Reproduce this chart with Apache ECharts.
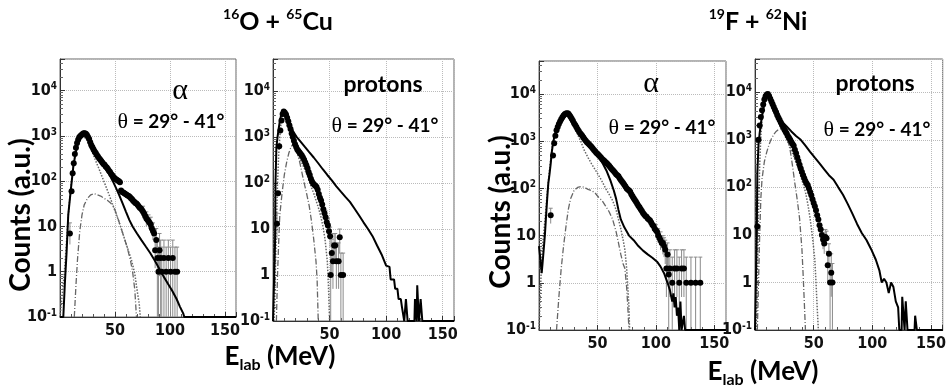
<!DOCTYPE html>
<html><head><meta charset="utf-8">
<script src="https://cdn.jsdelivr.net/npm/echarts@6/dist/echarts.min.js"></script>
<style>html,body{margin:0;padding:0;background:#fff}#c{width:949px;height:389px}</style>
</head><body><div id="c"></div>
<script>
// ---------- tick values ----------
const xTickValues = [50, 100, 150];
const yTickExponents = [-1, 0, 1, 2, 3, 4];

// ---------- Panel 1: 16O + 65Cu, alpha ----------
const p1Data = [[9,7],[10.5,60],[11.5,150],[12.5,250],[13.5,400],[14.5,550],[15.5,700],[16.5,820],[17.5,930],[18.5,1000],[19.5,1050],[20.5,1100],[21.5,1150],[22.5,1150],[23.5,1120],[24.5,1050],[25.5,950],[26.5,850],[27.5,720],[28.5,620],[29.5,560],[30.5,500],[31.5,450],[32.5,420],[33.5,380],[34.5,350],[35.5,320],[36.5,300],[37.5,280],[38.5,260],[39.5,240],[40.5,230],[41.5,210],[42.5,200],[43.5,185],[44.5,170],[45.5,160],[46.5,145],[47.5,135],[48.5,125],[49.5,118],[50.5,112],[51.5,108],[52.5,104],[53.5,100],[54.5,95],[55.5,62],[56.5,58],[57.5,56],[58.5,54],[59.5,52],[60.5,50],[61.5,48],[62.5,47],[63.5,45],[64.5,42],[65.5,40],[66.5,37],[67.5,35],[68.5,33],[69.5,32],[70.5,30],[71.5,28],[72.5,26],[73.5,25],[74.5,23],[75.5,21],[76.5,19],[77.5,17],[78.5,15],[79.5,14],[80.5,13],[81.5,12],[82.5,11],[83.5,9],[84.5,8],[85.5,7],[86.5,3],[87.5,5],[88.5,2],[89.5,1],[90.5,3],[91.5,2],[92.5,1],[94.5,2],[96.5,1],[98.5,2],[100.5,1],[102.5,2],[104.5,1],[106.5,1]];
const p1Err = [[9,4,12],[75.5,15,28],[78.5,10,21],[80.5,9,18],[82.5,7,16],[84.5,5,12],[86.5,1.2,7],[87.5,2.5,9],[88.5,0.1,5],[89.5,0.1,3.5],[90.5,0.8,7],[91.5,0.1,5],[92.5,0.1,3.5],[94.5,0.1,5],[96.5,0.1,3.5],[98.5,0.1,5],[100.5,0.1,3.5],[102.5,0.1,5],[104.5,0.1,3.5],[106.5,0.1,3.5]];
const p1Solid = [[0,0.1],[3,0.1],[4.5,0.6],[6,2.7],[7.5,18],[10,70],[12,200],[14,400],[16,650],[18,900],[20,1050],[22,1100],[24,1000],[26,850],[28,700],[30,560],[33,420],[36,320],[39,240],[42,180],[45,140],[48,100],[51,70],[54,48],[57,32],[60,21],[63,14],[66,10],[70,7],[74,5],[78,3.6],[82,2.6],[86,1.8],[90,1.2],[94,0.8],[98,0.55],[102,0.38],[106,0.25],[109,0.17],[112,0.12],[113,0.1],[160,0.1]];
const p1Dotted = [[0,0.1],[2,0.3],[4,1],[6,5],[8,25],[10,80],[12,220],[15,550],[18,900],[21,1000],[24,850],[27,600],[30,400],[32,300],[35,200],[38,130],[41,85],[44,55],[47,35],[50,22],[53,14],[56,8.5],[59,5],[62,3],[65,1.8],[68,0.9],[70,0.4],[72,0.2],[73,0.1]];
const p1DashDot = [[13,0.1],[14.5,0.5],[16,2],[18,8],[20,18],[22,30],[25,42],[28,50],[31,53],[34,50],[37,47],[40,42],[43,38],[46,33],[49,27],[52,17],[55,10],[58,6],[61,3.5],[64,1.8],[66,1],[68,0.4],[69.5,0.1]];

// ---------- Panel 2: 16O + 65Cu, protons ----------
const p2Data = [[3.5,13],[4.5,60],[5.5,630],[6.5,1400],[7.5,2300],[8.5,3200],[9.5,3600],[10.5,3400],[11.5,3100],[12.5,2650],[13.5,2200],[14.5,1800],[15.5,1500],[16.5,1200],[17.5,1000],[18.5,830],[19.5,700],[20.5,610],[21.5,540],[22.5,500],[23.5,460],[24.5,430],[25.5,400],[26.5,360],[27.5,320],[28.5,280],[29.5,245],[30.5,210],[31.5,175],[32.5,150],[33.5,125],[34.5,108],[35.5,98],[36.5,92],[37.5,88],[38.5,82],[39.5,72],[40.5,58],[41.5,48],[42.5,42],[43.5,34],[44.5,27],[45.5,22],[46.5,18],[47.5,14],[48.5,12],[49.5,9],[50.5,7],[51,1],[52,3],[53,2],[54,4.4],[55,4.4],[56,2],[58,2],[59,6.6],[60,1],[62,1]];
const p2Err = [[3.5,6,22],[46.5,12,25],[48.5,8,17],[49.5,6,13],[50.5,4,11],[51,0.1,3],[52,1,6],[53,0.5,5],[54,2,8],[55,2,8],[56,0.5,5],[58,0.5,5],[59,3,10],[60,0.1,3],[62,0.1,3]];
const p2Solid = [[0,0.1],[1.5,0.1],[1.8,5],[2.2,100],[3,600],[4,1000],[5,1500],[6,2200],[7,2900],[8,3400],[9,3700],[10,3500],[12,2800],[15,1900],[18,1300],[21,1000],[24,820],[28,620],[32,470],[36,360],[40,270],[44,200],[48,150],[52,115],[56,85],[60,65],[64,50],[68,39],[72,28],[76,20],[80,14],[84,10],[88,7],[92,4.4],[96,2.8],[100,1.6],[103,1.5],[104,0.8],[107,0.8],[108,0.5],[110,0.5],[111,0.3],[113,0.3],[114,0.2],[115,0.2],[116,0.1],[117,0.1],[117.5,0.3],[118.5,0.3],[119,0.1],[125,0.1],[125.5,0.3],[126.5,0.3],[127,0.1],[127.5,0.6],[128.5,0.6],[129,0.1],[130,0.1],[130.5,0.3],[131.5,0.3],[132,0.1],[160,0.1]];
const p2Dotted = [[1,0.1],[2,1],[3,10],[4,100],[5,400],[6,1000],[7,1900],[8,2800],[9,3300],[10,3200],[12,2400],[14,1700],[16,1100],[18,750],[20,520],[22,400],[24,320],[26,260],[28,200],[30,150],[32,110],[34,80],[36,60],[38,42],[40,30],[42,20],[44,12],[46,6],[48,2],[49,0.6],[50,0.1]];
const p2DashDot = [[3,0.1],[4,1],[5,5],[6,20],[8,60],[10,150],[12,280],[14,450],[16,620],[18,720],[20,650],[22,420],[24,260],[26,150],[28,90],[30,55],[32,32],[34,15],[36,6],[38,2],[39,0.8],[40,0.1]];

// ---------- Panel 3: 19F + 62Ni, alpha ----------
const p3Data = [[10,27],[12,500],[13,900],[14,1300],[15,1700],[16,2000],[17,2300],[18,2600],[19,2900],[20,3200],[21,3500],[22,3700],[23,3850],[24,3900],[25,3850],[26,3600],[27,3300],[28,3000],[29,2700],[30,2400],[31,2200],[32,2000],[33,1800],[34,1650],[35,1500],[36,1400],[37,1300],[38,1200],[39,1100],[40,1020],[41,950],[42,900],[43,850],[44,800],[45,750],[46,700],[47,650],[48,610],[49,570],[50,540],[51,510],[52,480],[53,450],[54,420],[55,400],[56,380],[57,360],[58,340],[59,320],[60,300],[61,280],[62,260],[63,245],[64,230],[65,215],[66,200],[67,190],[68,180],[69,165],[70,150],[71,140],[72,130],[73,120],[74,110],[75,100],[76,95],[77,90],[78,85],[79,75],[80,68],[81,62],[82,57],[83,52],[84,47],[85,43],[86,40],[87,36],[88,33],[89,30],[90,28],[91,26],[92,25],[93,23],[94,22],[95,21],[96,19],[97,17],[98,16],[99,14],[100,13],[101,12],[102,10],[103,9],[104,8],[105,7],[106,7],[107,6],[108,5],[109,2],[110,4],[111,1.5],[112,2],[114,1],[116,2],[118,2],[120,1],[122,2],[124,2],[126,1],[130,1],[134,1],[138,1]];
const p3Err = [[10,18,38],[100,9,17],[102,7,14],[104,5,12],[106,4,10],[107,3.5,9],[108,2.5,8],[109,0.5,4],[110,1.5,7],[111,0.1,4],[112,0.5,5],[114,0.1,3.5],[116,0.5,5],[118,0.5,5],[120,0.1,3.5],[122,0.5,5],[124,0.5,5],[126,0.1,3.5],[130,0.1,3.5],[134,0.1,3.5],[138,0.1,3.5]];
const p3Solid = [[0,6],[1,3.5],[2.3,1.6],[3,2.5],[4,5],[5,10],[6,25],[7,60],[8,130],[9,200],[10,330],[11,600],[12,900],[13,1200],[14,1500],[16,2000],[18,2500],[20,2900],[22,3400],[24,3800],[25,3900],[27,3600],[29,3000],[31,2400],[33,1900],[36,1400],[40,980],[44,750],[48,580],[52,430],[55,320],[58,230],[61,150],[64,90],[66,60],[68,35],[70,22],[73,15],[77,10],[81,8],[85,6],[89,4.8],[93,4],[97,3.4],[101,2.8],[104,2.2],[107,1.6],[110,1],[112,0.7],[114,0.4],[115,0.6],[116,0.3],[117,0.5],[118,0.2],[119,0.3],[120,0.1],[121,0.4],[122,0.1],[124,0.2],[125,0.1],[160,0.1]];
const p3Dotted = [[0,0.1],[1,0.5],[2,2],[3,6],[5,20],[7,80],[9,250],[11,700],[13,1300],[16,2000],[19,2800],[22,3400],[24,3500],[26,3100],[28,2500],[30,2000],[33,1400],[36,950],[39,620],[42,450],[45,330],[48,250],[51,190],[54,140],[57,100],[60,75],[63,55],[66,35],[68,22],[70,14],[72,8],[73.5,5],[75,2],[76,0.8],[77,0.3],[77.5,0.1]];
const p3DashDot = [[15,0.1],[17,0.5],[19,2],[21,6],[23,15],[25,35],[27,60],[30,90],[33,105],[36,110],[39,105],[42,95],[45,90],[48,80],[51,65],[54,55],[57,42],[60,32],[63,22],[66,12],[68,7],[70,4],[72,2.5],[73.5,2],[75,0.8],[76,0.3],[77,0.1]];

// ---------- Panel 4: 19F + 62Ni, protons ----------
const p4Data = [[2,15],[3,1000],[4,2000],[5,3000],[6,4200],[7,5500],[8,7000],[9,8200],[10,9000],[11,9200],[12,8300],[13,7300],[14,6400],[15,5600],[16,4900],[17,4300],[18,3800],[19,3300],[20,2900],[21,2600],[22,2300],[23,2050],[24,1850],[25,1650],[26,1500],[27,1350],[28,1200],[29,1100],[30,1000],[31,900],[32,820],[33,750],[34,620],[35,520],[36,430],[37,360],[38,300],[39,250],[40,210],[41,180],[42,155],[43,135],[44,120],[45,110],[46,95],[47,80],[48,68],[49,56],[50,47],[51,40],[52,33],[53,26],[54,21],[55,16],[56,13],[57,10],[58,8],[59,6.6],[60,9],[61,8.5],[62,2.3],[63,4],[64,1],[65,1.6],[66,1]];
const p4Err = [[2,8,25],[57,7,13],[58,5,11],[59,4,9],[60,6,13],[61,6,12],[62,1,4.5],[63,2,6.5],[64,0.1,2.5],[65,0.5,4],[66,0.1,2.5]];
const p4Solid = [[0,0.1],[1,0.1],[1.5,10],[2,200],[3,800],[4,1400],[5,2200],[6,3200],[7,4500],[8,6000],[9,7500],[10,8500],[11,9000],[13,7500],[15,5800],[17,4500],[20,3200],[23,2400],[27,1900],[31,1500],[35,1200],[39,1000],[43,750],[47,560],[51,420],[55,320],[59,240],[63,180],[67,145],[71,100],[75,70],[79,45],[83,28],[87,17],[91,11],[95,7.8],[99,5],[103,3],[106,1.8],[108,1],[110,1.2],[112,1],[114,0.6],[116,1],[118,0.8],[120,0.4],[122,0.3],[123,0.1],[125,0.1],[125.5,0.5],[127,0.5],[127.5,0.1],[128,0.1],[128.5,0.4],[129.5,0.4],[130,0.1],[136,0.1],[136.5,0.2],[137.5,0.2],[138,0.1],[160,0.1]];
const p4Dotted = [[1,0.1],[2,1],[3,30],[4,300],[5,1200],[6,2500],[7,4000],[8,6000],[9,7500],[10,8300],[11,8500],[13,6800],[15,5000],[17,3800],[19,2900],[21,2200],[23,1700],[25,1300],[27,1000],[29,780],[31,600],[33,450],[35,330],[37,240],[39,170],[41,120],[43,80],[45,45],[47,22],[49,9],[51,3],[52,1],[53,0.3],[54,0.1]];
const p4DashDot = [[2,0.1],[3,1],[4,10],[5,60],[6,150],[8,350],[10,550],[12,800],[14,1050],[16,1300],[18,1500],[20,1650],[22,1700],[24,1650],[26,1400],[28,1000],[30,600],[32,280],[34,120],[36,55],[38,22],[40,5],[41,1.5],[42,0.4],[43,0.1]];

// ---------- layout ----------
const grids = [
  {left:60, top:59, width:176, height:258},
  {left:273, top:59, width:181, height:262},
  {left:539, top:61, width:187, height:269},
  {left:755, top:59, width:188, height:271}
];
const panels = [
  {data:p1Data, err:p1Err, solid:p1Solid, dotted:p1Dotted, dashdot:p1DashDot},
  {data:p2Data, err:p2Err, solid:p2Solid, dotted:p2Dotted, dashdot:p2DashDot},
  {data:p3Data, err:p3Err, solid:p3Solid, dotted:p3Dotted, dashdot:p3DashDot},
  {data:p4Data, err:p4Err, solid:p4Solid, dotted:p4Dotted, dashdot:p4DashDot}
];

const NARROW = "'Liberation Sans Narrow','DejaVu Sans Condensed','Liberation Sans',sans-serif";
const TXT = "Lato,'Open Sans',sans-serif";
const SERIF = "'Liberation Serif','DejaVu Serif',serif";

function yFmt(v){
  const l = Math.log10(v), e = Math.round(l);
  if (Math.abs(l - e) > 0.01 || yTickExponents.indexOf(e) < 0) return '';
  if (e === 0) return '{b|1}';
  if (e === 1) return '{b|10}';
  return '{b|10}{e|' + e + '}';
}
function xFmt(v){
  const r = Math.round(v);
  return (Math.abs(v - r) < 1e-6 && xTickValues.indexOf(r) >= 0) ? String(r) : '';
}

const option = {
  animation:false,
  backgroundColor:'#fff',
  grid: grids.map(g => Object.assign({show:true, borderColor:'#666', borderWidth:1, backgroundColor:'#fff'}, g)),
  xAxis: grids.map((g,i) => ({
    type:'value', gridIndex:i, min:0, max:160, interval:50,
    axisLine:{show:true, lineStyle:{color:'#333', width:1}},
    axisTick:{show:true, inside:true, length:5, lineStyle:{color:'#333'}},
    minorTick:{show:true, splitNumber:5, length:3, lineStyle:{color:'#555'}},
    splitLine:{show:true, lineStyle:{color:'#bbb', type:'dotted', width:1}},
    axisLabel:{formatter:xFmt, fontFamily:NARROW, fontWeight:'bold', fontSize:16, color:'#111', margin:6, showMinLabel:false}
  })),
  yAxis: grids.map((g,i) => ({
    type:'log', logBase:10, gridIndex:i, min:0.1, max:50000,
    axisLine:{show:true, lineStyle:{color:'#333', width:1}},
    axisTick:{show:true, inside:true, length:5, lineStyle:{color:'#333'}},
    minorTick:{show:true, splitNumber:9, length:3, lineStyle:{color:'#666'}},
    splitLine:{show:true, lineStyle:{color:'#bbb', type:'dotted', width:1}},
    axisLabel:{formatter:yFmt, color:'#111', margin:3,
      rich:{ b:{fontFamily:NARROW, fontWeight:'bold', fontSize:16, lineHeight:18},
             e:{fontFamily:NARROW, fontWeight:'bold', fontSize:10, lineHeight:10, verticalAlign:'top'} } }
  })),
  series: []
};

panels.forEach((p, i) => {
  option.series.push({type:'line', xAxisIndex:i, yAxisIndex:i, data:p.dashdot, symbol:'none', z:2,
    lineStyle:{color:'#666', width:1.3, type:[6,2,1,2]}});
  option.series.push({type:'line', xAxisIndex:i, yAxisIndex:i, data:p.dotted, symbol:'none', z:2,
    lineStyle:{color:'#666', width:1.5, type:[1.5,1.5]}});
  option.series.push({type:'custom', xAxisIndex:i, yAxisIndex:i, data:p.err, z:3, clip:true,
    encode:{x:0, y:[1,2]},
    renderItem:(params, api) => {
      const x = api.value(0);
      const a = api.coord([x, api.value(1)]);
      const b = api.coord([x, api.value(2)]);
      return {type:'group', children:[
        {type:'line', shape:{x1:a[0], y1:a[1], x2:b[0], y2:b[1]}, style:{stroke:'#8a8a8a', lineWidth:1}},
        {type:'line', shape:{x1:b[0]-2, y1:b[1], x2:b[0]+2, y2:b[1]}, style:{stroke:'#8a8a8a', lineWidth:1}}
      ]};
    }});
  option.series.push({type:'line', xAxisIndex:i, yAxisIndex:i, data:p.solid, symbol:'none', z:4,
    lineStyle:{color:'#000', width:2}});
  option.series.push({type:'scatter', xAxisIndex:i, yAxisIndex:i, data:p.data, symbol:'circle', symbolSize:6, z:5,
    itemStyle:{color:'#000', opacity:1}});
});

function txt(x, y, text, rich, extra){
  return Object.assign({type:'text', x:x, y:y, z:100,
    style:{text:text, rich:rich, align:'center', verticalAlign:'middle', fill:'#000'}}, extra||{});
}
const titleRich = {
  m:{fontFamily:TXT, fontWeight:'bold', fontSize:25, lineHeight:30, fill:'#000'},
  s:{fontFamily:TXT, fontWeight:'bold', fontSize:14, lineHeight:14, verticalAlign:'top', fill:'#000'}
};
const labRich = {
  m:{fontFamily:TXT, fontWeight:'bold', fontSize:26, lineHeight:32, fill:'#000'},
  s:{fontFamily:TXT, fontWeight:'bold', fontSize:16, lineHeight:16, verticalAlign:'bottom', fill:'#000'}
};
const cntRich = {m:{fontFamily:TXT, fontWeight:'bold', fontSize:28, lineHeight:32, fill:'#000'}};
const thRich = {
  t:{fontFamily:SERIF, fontSize:22, lineHeight:24, fill:'#000'},
  m:{fontFamily:TXT, fontWeight:'bold', fontSize:19, lineHeight:24, fill:'#000'}
};
const alRich = {a:{fontFamily:SERIF, fontSize:30, lineHeight:30, fill:'#000'}};
const prRich = {m:{fontFamily:TXT, fontWeight:'bold', fontSize:23, lineHeight:28, fill:'#000'}};

option.graphic = [
  txt(278, 22, '{s|16}{m|O + }{s|65}{m|Cu}', titleRich),
  txt(758, 22, '{s|19}{m|F + }{s|62}{m|Ni}', titleRich),
  txt(21, 215, '{m|Counts (a.u.)}', cntRich, {rotation:Math.PI/2}),
  txt(501, 212, '{m|Counts (a.u.)}', cntRich, {rotation:Math.PI/2}),
  txt(280, 357, '{m|E}{s|lab}{m| (MeV)}', labRich),
  txt(763, 372, '{m|E}{s|lab}{m| (MeV)}', labRich),
  txt(180, 91, '{a|α}', alRich),
  txt(651, 84, '{a|α}', alRich),
  txt(383, 85, '{m|protons}', prRich),
  txt(875, 84, '{m|protons}', prRich),
  txt(171, 122, '{t|θ}{m| = 29° - 41°}', thRich),
  txt(385, 126, '{t|θ}{m| = 29° - 41°}', thRich),
  txt(662, 128, '{t|θ}{m| = 29° - 41°}', thRich),
  txt(877, 130, '{t|θ}{m| = 29° - 41°}', thRich)
];

const chart = echarts.init(document.getElementById('c'), null, {renderer:'canvas'});
chart.setOption(option);
</script>
</body></html>
